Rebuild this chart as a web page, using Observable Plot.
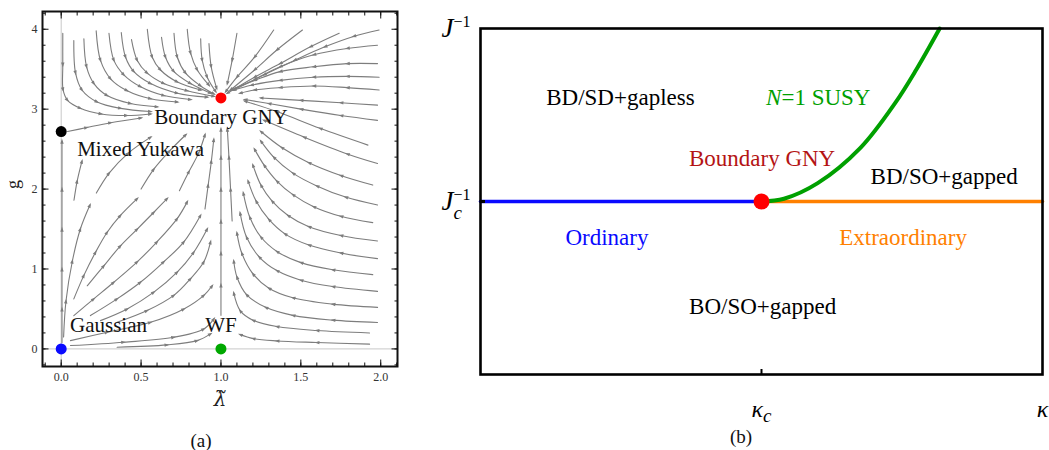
<!DOCTYPE html>
<html><head><meta charset="utf-8">
<script src="https://cdn.jsdelivr.net/npm/d3@7"></script>
<script src="https://cdn.jsdelivr.net/npm/@observablehq/plot@0.6"></script>
<style>
body{margin:0;background:#fff;}
#wrap{position:relative;width:1049px;height:450px;overflow:hidden;font-family:"Liberation Serif",serif;background:#fff;}
#left{position:absolute;left:0;top:0;}
#right{position:absolute;left:430px;top:0;}
.cap{position:absolute;font-size:19px;line-height:1;transform:translateX(-50%);color:#111;}
</style></head><body>
<div id="wrap">
  <div id="left"></div>
  <div id="right"></div>
  <div class="cap" style="left:201px;top:431px">(a)</div>
  <div class="cap" style="left:741px;top:427px">(b)</div>
</div>
<script>
// ---------------- Panel (a): RG flow ----------------
const X_MAJOR = [0, 0.5, 1, 1.5, 2];
const X_TICK_LABELS = ["0.0", "0.5", "1.0", "1.5", "2.0"];
const X_MINOR = [-0.1,0,0.1,0.2,0.3,0.4,0.5,0.6,0.7,0.8,0.9,1,1.1,1.2,1.3,1.4,1.5,1.6,1.7,1.8,1.9,2,2.1];
const Y_MAJOR = [0, 1, 2, 3, 4];
const Y_TICK_LABELS = ["0", "1", "2", "3", "4"];
const Y_MINOR = [-0.2,0,0.2,0.4,0.6,0.8,1,1.2,1.4,1.6,1.8,2,2.2,2.4,2.6,2.8,3,3.2,3.4,3.6,3.8,4,4.2];
const X_TITLE = "\u03BB\u0303";   // lambda with tilde
const Y_TITLE = "g";

// streamlines, each listed in flow direction as [lambda, g]
const streamTopLeft = [
  [[0.01,3.95],[0.01,3.55],[0.012,3.24],[0.04,3.11],[0.12,3.01],[0.25,2.94],[0.41,2.92],[0.56,2.94]],
  [[0.079,3.86],[0.09,3.45],[0.13,3.24],[0.225,3.09],[0.372,3.01],[0.56,2.97]],
  [[0.142,3.88],[0.159,3.53],[0.205,3.32],[0.288,3.17],[0.434,3.07],[0.601,3.03]],
  [[0.219,3.98],[0.246,3.61],[0.309,3.38],[0.413,3.23],[0.56,3.13],[0.727,3.09]],
  [[0.299,3.95],[0.33,3.61],[0.392,3.43],[0.497,3.28],[0.643,3.17],[0.81,3.12]],
  [[0.376,3.96],[0.403,3.65],[0.455,3.47],[0.56,3.32],[0.727,3.2],[0.914,3.15]],
  [[0.44,3.87],[0.476,3.61],[0.539,3.45],[0.643,3.32],[0.789,3.23],[0.956,3.16]],
  [[0.539,4.0],[0.57,3.65],[0.622,3.49],[0.727,3.34],[0.873,3.24]],
  [[0.628,3.9],[0.653,3.65],[0.706,3.47],[0.81,3.32],[0.935,3.2]],
  [[0.706,3.95],[0.727,3.65],[0.779,3.45],[0.873,3.29],[0.956,3.19]],
  [[0.789,4.0],[0.81,3.7],[0.852,3.49],[0.925,3.3]],
  [[0.873,3.88],[0.883,3.61],[0.914,3.4],[0.967,3.22]],
  [[0.925,3.82],[0.939,3.53],[0.973,3.26]]
];
const streamTopRight = [
  [[1.1,3.95],[1.07,3.61],[1.04,3.32]],
  [[1.33,3.99],[1.21,3.65],[1.1,3.4],[1.03,3.22]],
  [[1.51,3.99],[1.35,3.74],[1.21,3.49],[1.06,3.24]],
  [[1.74,3.95],[1.56,3.78],[1.37,3.57],[1.21,3.4],[1.04,3.2]],
  [[1.99,3.99],[1.83,3.91],[1.65,3.78],[1.46,3.61],[1.27,3.43],[1.08,3.24]],
  [[1.98,3.8],[1.79,3.76],[1.58,3.68],[1.37,3.53],[1.21,3.37]],
  [[1.98,3.57],[1.79,3.57],[1.58,3.53],[1.37,3.47],[1.21,3.36],[1.06,3.24]],
  [[1.99,3.4],[1.79,3.41],[1.58,3.4],[1.37,3.36],[1.19,3.3],[1.08,3.24]],
  [[1.99,3.24],[1.79,3.27],[1.58,3.29],[1.37,3.27],[1.21,3.24],[1.12,3.2]]
];
const streamRight = [
  [[1.98,3.05],[1.75,3.08],[1.5,3.11],[1.25,3.14]],
  [[1.98,2.86],[1.75,2.92],[1.5,3.0],[1.3,3.07],[1.15,3.12]],
  [[1.92,2.55],[1.62,2.76],[1.35,2.97],[1.15,3.1]],
  [[1.98,2.32],[1.79,2.44],[1.52,2.65],[1.27,2.86]],
  [[1.95,2.05],[1.75,2.17],[1.55,2.33],[1.38,2.52],[1.25,2.72]],
  [[1.98,1.8],[1.78,1.9],[1.6,2.04],[1.45,2.2],[1.33,2.4],[1.25,2.6]],
  [[1.95,1.58],[1.75,1.66],[1.58,1.78],[1.45,1.93],[1.35,2.1],[1.27,2.3],[1.21,2.5]],
  [[1.98,1.35],[1.75,1.42],[1.55,1.53],[1.42,1.67],[1.32,1.85],[1.25,2.05],[1.2,2.3]],
  [[1.98,1.13],[1.75,1.2],[1.55,1.3],[1.4,1.44],[1.3,1.62],[1.22,1.85],[1.17,2.1]],
  [[1.95,0.93],[1.7,0.99],[1.5,1.08],[1.35,1.22],[1.25,1.4],[1.18,1.65],[1.14,1.95]],
  [[1.98,0.72],[1.7,0.78],[1.5,0.86],[1.35,0.98],[1.24,1.15],[1.16,1.4],[1.12,1.7]],
  [[1.98,0.52],[1.7,0.56],[1.45,0.64],[1.3,0.76],[1.2,0.94],[1.13,1.2],[1.1,1.45]],
  [[1.98,0.33],[1.7,0.36],[1.45,0.42],[1.28,0.52],[1.16,0.68],[1.1,0.9],[1.08,1.1]],
  [[1.93,0.2],[1.6,0.23],[1.35,0.28],[1.2,0.36],[1.12,0.48],[1.08,0.7]],
  [[1.93,0.06],[1.6,0.08],[1.35,0.1],[1.2,0.13],[1.12,0.18]],
  [[1.07,1.6],[1.06,2.0],[1.05,2.4],[1.04,2.75]]
];
const streamLowerLeft = [
  [[0.005,0.08],[0.005,0.5],[0.005,1.0],[0.005,1.5],[0.005,2.0],[0.005,2.6]],
  [[0.015,0.15],[0.03,0.6],[0.07,1.1],[0.12,1.5],[0.18,1.8]],
  [[0.079,0.626],[0.142,0.92],[0.215,1.21],[0.288,1.46],[0.371,1.67],[0.476,1.88]],
  [[0.163,0.79],[0.267,1.04],[0.371,1.29],[0.476,1.5],[0.58,1.71],[0.663,1.88]],
  [[0.079,0.417],[0.204,0.626],[0.329,0.834],[0.476,1.09],[0.6,1.34],[0.726,1.63],[0.789,1.84]],
  [[0.183,0.417],[0.35,0.626],[0.496,0.834],[0.642,1.09],[0.768,1.34],[0.872,1.67]],
  [[0.246,0.354],[0.413,0.5],[0.58,0.71],[0.726,0.96],[0.83,1.21],[0.914,1.5]],
  [[0.35,0.333],[0.538,0.48],[0.705,0.67],[0.81,0.88],[0.893,1.09],[0.935,1.34]],
  [[0.058,0.104],[0.288,0.209],[0.559,0.333],[0.768,0.5],[0.893,0.67],[0.945,0.79]],
  [[0.058,0.042],[0.392,0.084],[0.705,0.146],[0.893,0.25],[0.956,0.375]],
  [[0.35,0.021],[0.663,0.05],[0.851,0.104],[0.935,0.188]],
  [[0.08,1.86],[0.1,2.1],[0.13,2.35]],
  [[0.22,1.95],[0.3,2.2],[0.42,2.45],[0.56,2.65]],
  [[0.5,2.0],[0.58,2.25],[0.68,2.48],[0.78,2.68]],
  [[0.74,1.98],[0.8,2.22],[0.86,2.45],[0.9,2.68]],
  [[0.9,1.75],[0.92,2.05],[0.94,2.35],[0.955,2.62]],
  [[0.04,2.72],[0.16,2.77],[0.31,2.83],[0.5,2.89]],
  [[1.0,0.42],[1.0,0.8],[1.0,1.2],[1.0,1.6],[1.0,2.0],[1.0,2.4],[1.0,2.75]]
];

const fixedNames = ["Gaussian", "WF", "Mixed Yukawa", "Boundary GNY"];
const fixedLambda = [0, 1, 0, 1];
const fixedG = [0, 0, 2.72, 3.14];
const fixedLabelLambda = [0.296, 1.0, 0.497, 1.0];
const fixedLabelG = [0.29, 0.29, 2.5, 2.9];

// ---------------- Panel (b): phase diagram ----------------
const ordinaryKappa = [0, 0.5];
const extraordinaryKappa = [0.5, 1];
const criticalJinv = 0.5;
const susyKappa = [0.5, 0.54, 0.6, 0.676, 0.738, 0.775, 0.817];
const susyJinv  = [0.5, 0.508, 0.553, 0.655, 0.785, 0.88, 1.0];
const phaseLabels = ["BD/SD+gapless", "N=1 SUSY", "Boundary GNY", "BD/SO+gapped", "Ordinary", "Extraordinary", "BO/SO+gapped"];
const phaseKappa  = [0.249, 0.601, 0.501, 0.825, 0.225, 0.752, 0.502];
const phaseJinv   = [0.799, 0.799, 0.623, 0.572, 0.397, 0.397, 0.195];
const kappaTicks = [0.5, 1];
const kappaTickLabels = [{main: "κ", sub: "c"}, {main: "κ", sub: ""}];
const jTicks = [0.5, 1];
const jTickLabels = [{main: "J", sub: "c", sup: "−1"}, {main: "J", sub: "", sup: "−1"}];

// ---------- styles ----------
const fixedColors = {"Gaussian": "#0a0aff", "WF": "#00a800", "Mixed Yukawa": "#000000", "Boundary GNY": "#ff0000"};
const phaseColors = {"BD/SD+gapless": "#000", "N=1 SUSY": "#00a000", "Boundary GNY": "#b41414",
  "BD/SO+gapped": "#000", "Ordinary": "#0a0aff", "Extraordinary": "#ff8000", "BO/SO+gapped": "#000"};

// filled arrowhead marker for the stream lines
function filledArrow(color, context) {
  const doc = (context && context.document) || document;
  const ns = "http://www.w3.org/2000/svg";
  const m = doc.createElementNS(ns, "marker");
  m.setAttribute("viewBox", "-5 -5 10 10");
  m.setAttribute("markerWidth", 6.5);
  m.setAttribute("markerHeight", 6.5);
  m.setAttribute("markerUnits", "userSpaceOnUse");
  m.setAttribute("orient", "auto");
  const p = doc.createElementNS(ns, "path");
  p.setAttribute("d", "M-4,-2.6L3.5,0L-4,2.6Z");
  p.setAttribute("fill", color);
  p.setAttribute("stroke", "none");
  m.appendChild(p);
  return m;
}

// ---------- build panel (a) ----------
const allStreams = [...streamTopLeft, ...streamTopRight, ...streamRight, ...streamLowerLeft];
const streamRows = allStreams.flatMap((pts, id) => pts.map(([x, y]) => ({id, x, y})));
const fixedRows = fixedNames.map((name, i) => ({name, x: fixedLambda[i], y: fixedG[i]}));
const fixedLabelRows = fixedNames.map((name, i) => ({name, x: fixedLabelLambda[i], y: fixedLabelG[i]}));

const serif = "Liberation Serif, Times New Roman, serif";
const tickAxisX = (ticks, anchor, size) => Plot.axisX(ticks, {anchor, tickSize: size, tickFormat: () => "", label: null, stroke: "#111"});
const tickAxisY = (ticks, anchor, size) => Plot.axisY(ticks, {anchor, tickSize: size, tickFormat: () => "", label: null, stroke: "#111"});

function buildLeft(marker) {
  return Plot.plot({
    width: 405, height: 420,
    marginLeft: 42, marginRight: 8, marginTop: 11, marginBottom: 54,
    x: {domain: [-0.117, 2.105]},
    y: {domain: [-0.22, 4.222]},
    style: {fontFamily: serif, background: "white", overflow: "visible"},
    marks: [
      Plot.ruleX([0], {stroke: "#c8c8c8", strokeWidth: 1}),
      Plot.ruleY([0], {stroke: "#c8c8c8", strokeWidth: 1}),
      Plot.line(streamRows, {x: "x", y: "y", z: "id", stroke: "#7d7d7d", strokeWidth: 1.1,
        curve: "catmull-rom", markerMid: marker, markerEnd: marker}),
      Plot.text(fixedLabelRows, {x: "x", y: "y", text: "name", fontSize: 21, fill: "#111", textAnchor: "middle"}),
      Plot.dot(fixedRows, {x: "x", y: "y", r: 5.5, fill: d => fixedColors[d.name], stroke: "none"}),
      Plot.frame({stroke: "#111", strokeWidth: 2}),
      tickAxisX(X_MINOR, "bottom", -3.5), tickAxisX(X_MAJOR, "bottom", -6.5),
      tickAxisX(X_MINOR, "top", -3.5), tickAxisX(X_MAJOR, "top", -6.5),
      tickAxisY(Y_MINOR, "left", -3.5), tickAxisY(Y_MAJOR, "left", -6.5),
      tickAxisY(Y_MINOR, "right", -3.5), tickAxisY(Y_MAJOR, "right", -6.5),
      Plot.axisX(X_MAJOR, {anchor: "bottom", tickSize: 0, tickPadding: 6, fontSize: 12, fill: "#333",
        tickFormat: d => X_TICK_LABELS[X_MAJOR.indexOf(d)], label: null}),
      Plot.axisY(Y_MAJOR, {anchor: "left", tickSize: 0, tickPadding: 5, fontSize: 12, fill: "#333",
        tickFormat: d => Y_TICK_LABELS[Y_MAJOR.indexOf(d)], label: null}),
      Plot.text([X_TITLE], {text: d => d, frameAnchor: "bottom", dy: 39, fontSize: 20, fontStyle: "italic",
        fontFamily: "DejaVu Serif", fill: "#222"}),
      Plot.text([Y_TITLE], {text: d => d, frameAnchor: "left", dx: -29, rotate: -90, fontSize: 18, fill: "#222"})
    ]
  });
}
let left;
try { left = buildLeft(filledArrow); } catch (e) { left = buildLeft("arrow"); }
document.getElementById("left").appendChild(left);

// ---------- build panel (b) ----------
const ordRows = ordinaryKappa.map(k => ({k, j: criticalJinv}));
const extRows = extraordinaryKappa.map(k => ({k, j: criticalJinv}));
const susyRows = susyKappa.map((k, i) => ({k, j: susyJinv[i]}));
const phaseRows = phaseLabels.map((t, i) => ({t, k: phaseKappa[i], j: phaseJinv[i]}));

const right = Plot.plot({
  width: 619, height: 420,
  marginLeft: 50, marginRight: 7, marginTop: 28, marginBottom: 46,
  x: {domain: [0, 1]},
  y: {domain: [0, 1]},
  style: {fontFamily: serif, background: "white", overflow: "visible"},
  marks: [
    Plot.line(extRows, {x: "k", y: "j", stroke: "#ff8000", strokeWidth: 3.5}),
    Plot.line(ordRows, {x: "k", y: "j", stroke: "#0a0aff", strokeWidth: 3.5}),
    Plot.line(susyRows, {x: "k", y: "j", stroke: "#00a000", strokeWidth: 4, curve: "catmull-rom"}),
    Plot.dot([{k: extraordinaryKappa[0], j: criticalJinv}], {x: "k", y: "j", r: 8, fill: "#ff0000"}),
    Plot.text(phaseRows, {x: "k", y: "j", text: "t", fontSize: 23, fill: d => phaseColors[d.t]}),
    Plot.frame({stroke: "#000", strokeWidth: 2.6}),
    Plot.axisX([kappaTicks[0]], {anchor: "bottom", tickSize: -5, strokeWidth: 2, tickFormat: () => "", label: null}),
    Plot.axisY([jTicks[0]], {anchor: "left", tickSize: -5, strokeWidth: 3, tickFormat: () => "", label: null}),
    Plot.axisX(kappaTicks, {anchor: "bottom", tickSize: 0, tickPadding: 25, fontSize: 24, fill: "#000",
      tickFormat: d => "k" + kappaTicks.indexOf(d), label: null}),
    Plot.axisY(jTicks, {anchor: "left", tickSize: 0, tickPadding: 10, fontSize: 27, fill: "#000",
      tickFormat: d => "j" + jTicks.indexOf(d), label: null})
  ]
});
document.getElementById("right").appendChild(right);

// rich tick labels (subscripts / superscripts)
function richLabel(el, spec, o) {
  const t = d3.select(el);
  t.text(null);
  t.append("tspan").attr("font-style", "italic").text(spec.main);
  if (spec.sub) t.append("tspan").attr("font-style", "italic").attr("font-size", o.subSize)
    .attr("dy", o.subDy).text(spec.sub);
  if (spec.sup) t.append("tspan").attr("font-size", o.supSize)
    .attr("dx", spec.sub ? -o.subWidth : 0)
    .attr("dy", spec.sub ? -(o.subDy + o.supRise) : -o.supRise).text(spec.sup);
}
right.querySelectorAll('g[aria-label="x-axis tick label"] text').forEach(el => {
  const key = el.textContent;
  if (key && key[0] === "k") richLabel(el, kappaTickLabels[+key.slice(1)], {subSize: 19, subDy: 5});
});
right.querySelectorAll('g[aria-label="y-axis tick label"] text').forEach(el => {
  const key = el.textContent;
  if (key && key[0] === "j") richLabel(el, jTickLabels[+key.slice(1)], {subSize: 19, subDy: 9, supSize: 16, supRise: 10, subWidth: 8.4});
});
// italic N in "N=1 SUSY"
right.querySelectorAll("text").forEach(el => {
  if (el.textContent === "N=1 SUSY") {
    const t = d3.select(el);
    t.text(null);
    t.append("tspan").attr("font-style", "italic").text("N");
    t.append("tspan").text("=1 SUSY");
  }
});
</script>
</body></html>
